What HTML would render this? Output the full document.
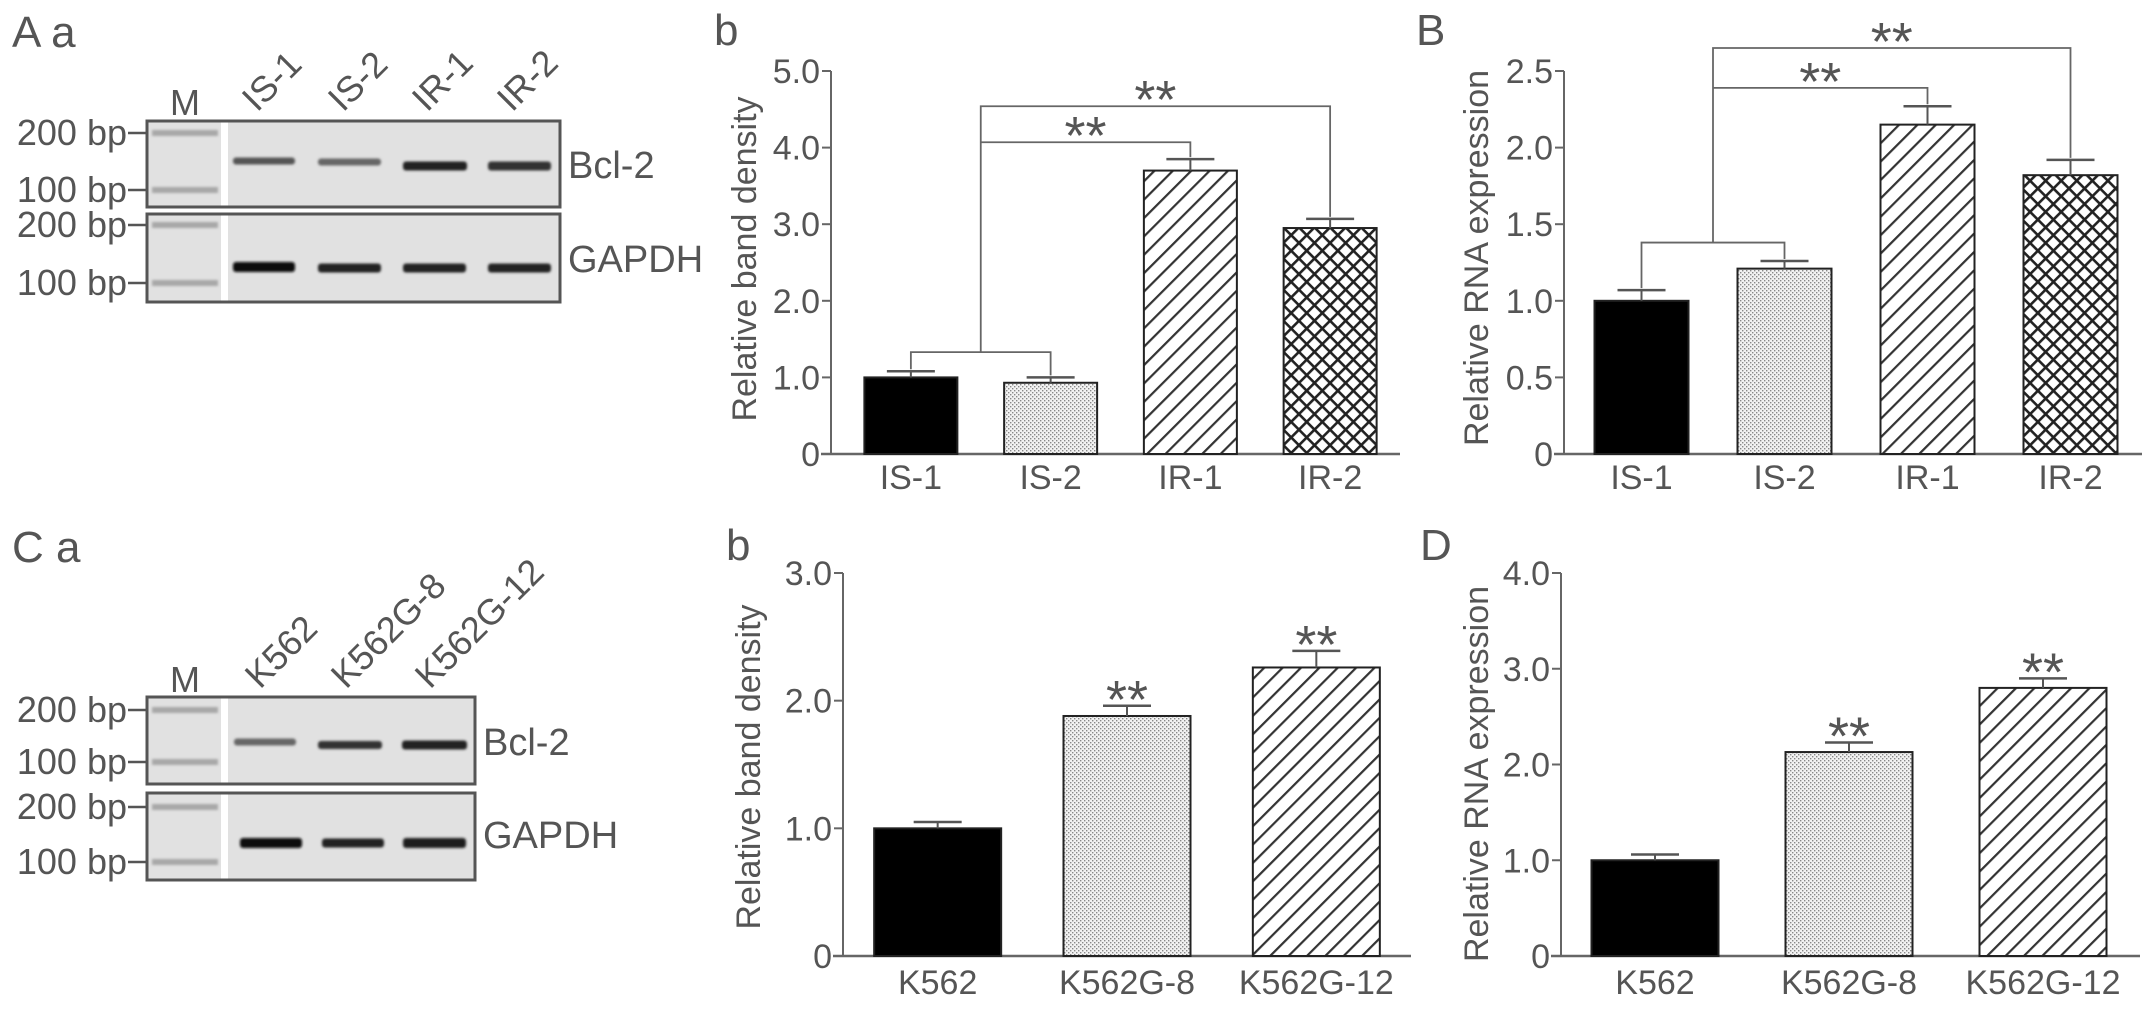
<!DOCTYPE html>
<html><head><meta charset="utf-8"><style>
html,body{margin:0;padding:0;background:#fff;}
svg{display:block;font-family:"Liberation Sans",Arial,sans-serif;}
text{fill:#555;}
</style></head><body>
<svg id="fig" width="2150" height="1009" viewBox="0 0 2150 1009" xmlns="http://www.w3.org/2000/svg">
<defs>
<pattern id="dots" width="4" height="4" patternUnits="userSpaceOnUse"><rect width="4" height="4" fill="#f2f2f2"/><rect x="0" y="0" width="1.4" height="1.4" fill="#888"/><rect x="2" y="2" width="1.4" height="1.4" fill="#888"/></pattern>
<pattern id="diag" width="13" height="13" patternUnits="userSpaceOnUse" patternTransform="rotate(45)"><rect width="13" height="13" fill="#fff"/><rect x="0" y="0" width="2.2" height="13" fill="#333"/></pattern>
<pattern id="cross" width="11" height="11" patternUnits="userSpaceOnUse" patternTransform="rotate(45)"><rect width="11" height="11" fill="#fff"/><rect x="0" y="0" width="2.6" height="11" fill="#222"/><rect x="0" y="0" width="11" height="2.6" fill="#222"/></pattern>
<filter id="blur" x="-10%" y="-100%" width="120%" height="300%"><feGaussianBlur stdDeviation="1.3"/></filter>
</defs>
<g id="root"></g>
</svg>
<script>
// ---------- Chart A-b data ----------
const abCategories = ["IS-1","IS-2","IR-1","IR-2"];
const abValues = [1.0, 0.93, 3.7, 2.95];
const abErrors = [0.08, 0.07, 0.15, 0.12];
const abTicks = [0,1,2,3,4,5];
const abTickLabels = ["0","1.0","2.0","3.0","4.0","5.0"];
// ---------- Chart B data ----------
const bCategories = ["IS-1","IS-2","IR-1","IR-2"];
const bValues = [1.0, 1.21, 2.15, 1.82];
const bErrors = [0.07, 0.05, 0.12, 0.1];
const bTicks = [0,0.5,1,1.5,2,2.5];
const bTickLabels = ["0","0.5","1.0","1.5","2.0","2.5"];
// ---------- Chart C-b data ----------
const cbCategories = ["K562","K562G-8","K562G-12"];
const cbValues = [1.0, 1.88, 2.26];
const cbErrors = [0.05, 0.08, 0.13];
const cbTicks = [0,1,2,3];
const cbTickLabels = ["0","1.0","2.0","3.0"];
// ---------- Chart D data ----------
const dCategories = ["K562","K562G-8","K562G-12"];
const dValues = [1.0, 2.13, 2.8];
const dErrors = [0.06, 0.1, 0.1];
const dTicks = [0,1,2,3,4];
const dTickLabels = ["0","1.0","2.0","3.0","4.0"];

const NS="http://www.w3.org/2000/svg";
const root=document.getElementById('root');
function mk(tag,attrs,parent){const e=document.createElementNS(NS,tag);for(const k in attrs)e.setAttribute(k,attrs[k]);(parent||root).appendChild(e);return e;}
function txt(s,x,y,size,anchor,parent,extra){const e=mk('text',Object.assign({x:x,y:y,'font-size':size,'text-anchor':anchor||'start'},extra||{}),parent);e.textContent=s;return e;}

function chart(cfg){
  const g=mk('g',{});
  
  
  const ymax=cfg.ticks[cfg.ticks.length-1];
  const Y=v=>cfg.y0-(cfg.y0-cfg.yTop)*v/ymax;
  const step=(cfg.xEnd-cfg.ax-cfg.pad)/cfg.cats.length;
  const X=i=>cfg.ax+cfg.pad+step*i+(step-cfg.bw)/2;
  const CX=i=>X(i)+cfg.bw/2;
  const ya=mk('line',{x1:cfg.ax,y1:cfg.yTop,x2:cfg.ax,y2:cfg.y0,stroke:'#666','stroke-width':2},g);
  
  
  const xa=mk('line',{x1:cfg.ax-10,y1:cfg.y0,x2:cfg.xEnd,y2:cfg.y0,stroke:'#666','stroke-width':2.5},g);
  
  
  cfg.ticks.forEach((t,i)=>{
    mk('line',{x1:cfg.ax-9,y1:Y(t),x2:cfg.ax,y2:Y(t),stroke:'#666','stroke-width':2},g);
    const tl=txt(cfg.tickLabels[i],cfg.ax-11,Y(t)+12,34,'end',g);
    
    
  });
  const yt=txt(cfg.ylabel,0,0,34,'middle',g,{transform:`translate(${cfg.ylx},${cfg.lyc}) rotate(-90)`});
  
  
  cfg.cats.forEach((c,i)=>{
    const b=mk('rect',{x:X(i),y:Y(cfg.vals[i]),width:cfg.bw,height:cfg.y0-Y(cfg.vals[i]),fill:cfg.fills[i],stroke:'#222','stroke-width':2},g);
    
    
    const top=Y(cfg.vals[i]+cfg.errs[i]);
    mk('line',{x1:CX(i),y1:Y(cfg.vals[i]),x2:CX(i),y2:top,stroke:'#555','stroke-width':2},g);
    const cap=mk('line',{x1:CX(i)-24,y1:top,x2:CX(i)+24,y2:top,stroke:'#555','stroke-width':2.5},g);
    
    
    const cl=txt(c,CX(i),cfg.labY,34,'middle',g);
    
    
    if(cfg.stars&&cfg.stars[i]){
      const s=txt('**',CX(i),top+12,54,'middle',g);
      
      
    }
  });
  if(cfg.brackets){
    const br=cfg.brackets;
    const st={stroke:'#666','stroke-width':1.8,fill:'none'};
    const c0=CX(0),c1=CX(1),c2=CX(2),c3=CX(3);
    const lo=Y(br.low);
    mk('polyline',Object.assign({points:`${c0},${Y(cfg.vals[0]+cfg.errs[0])-2} ${c0},${lo} ${c1},${lo} ${c1},${Y(cfg.vals[1]+cfg.errs[1])-2}`},st),g);
    const mid=(c0+c1)/2;
    mk('polyline',Object.assign({points:`${mid},${lo} ${mid},${Y(br.top)} ${c3},${Y(br.top)} ${c3},${Y(cfg.vals[3]+cfg.errs[3])-2}`},st),g);
    mk('polyline',Object.assign({points:`${mid},${Y(br.upper)} ${c2},${Y(br.upper)} ${c2},${Y(cfg.vals[2]+cfg.errs[2])-2}`},st),g);
    const s1=txt('**',(mid+c2)/2,Y(br.upper)+12,54,'middle',g);
    
    
    const s2=txt('**',(mid+c3)/2,Y(br.top)+12,54,'middle',g);
    
    
  }
}
const f4=['#000','url(#dots)','url(#diag)','url(#cross)'];
const f3=['#000','url(#dots)','url(#diag)'];
chart({name:'chart-a-b',cats:abCategories,vals:abValues,errs:abErrors,ticks:abTicks,tickLabels:abTickLabels,ax:831,y0:454,yTop:71,xEnd:1400,pad:10,bw:93,fills:f4,ylabel:'Relative band density',ylx:756,lyc:259,labY:489,brackets:{low:1.33,upper:4.07,top:4.54}});
chart({name:'chart-b',cats:bCategories,vals:bValues,errs:bErrors,ticks:bTicks,tickLabels:bTickLabels,ax:1564,y0:454,yTop:71,xEnd:2142,pad:6,bw:94,fills:f4,ylabel:'Relative RNA expression',ylx:1488,lyc:258,labY:489,brackets:{low:1.38,upper:2.39,top:2.65}});
chart({name:'chart-c-b',cats:cbCategories,vals:cbValues,errs:cbErrors,ticks:cbTicks,tickLabels:cbTickLabels,ax:843,y0:956,yTop:573,xEnd:1411,pad:0,bw:127,fills:f3,ylabel:'Relative band density',ylx:760,lyc:767,labY:994,stars:[0,1,1]});
chart({name:'chart-d',cats:dCategories,vals:dValues,errs:dErrors,ticks:dTicks,tickLabels:dTickLabels,ax:1561,y0:956,yTop:573,xEnd:2140,pad:-3,bw:127,fills:f3,ylabel:'Relative RNA expression',ylx:1488,lyc:774,labY:994,stars:[0,1,1]});

[['A a',12,47],['b',714,45],['B',1416,45],['C a',12,562],['b',726,560],['D',1420,560]].forEach(p=>{
  const t=txt(p[0],p[1],p[2],44,'start');
  
  
});

function gel(cfg){
  const g=mk('g',{});
  
  
  const m=txt('M',185,cfg.mY,36,'middle',g);
  
  
  cfg.lanes.forEach((l,i)=>{
    const t=txt(l,0,0,36,'start',g,{transform:`translate(${cfg.lx[i]},${cfg.mY-2}) rotate(-45)`});
    
    
  });
  cfg.boxes.forEach((bx,k)=>{
    const [y1,y2]=bx;
    mk('rect',{x:147,y:y1,width:cfg.x2-147,height:y2-y1,fill:'#e1e1e1',stroke:'#555','stroke-width':3},g);
    mk('rect',{x:221,y:y1+1.5,width:7,height:y2-y1-3,fill:'#fff'},g);
    cfg.markers[k].forEach((my,j)=>{
      mk('rect',{x:152,y:my-3,width:66,height:6,fill:'#a8a8a8',filter:'url(#blur)'},g);
      const lbl=txt(j==0?'200 bp':'100 bp',127,my+12,36,'end',g);
      
      
      mk('line',{x1:128,y1:my,x2:147,y2:my,stroke:'#555','stroke-width':2.5},g);
    });
    cfg.bands[k].forEach((bd,j)=>{
      const b=mk('rect',{x:bd[0],y:bd[1]-bd[2]/2,width:bd[3],height:bd[2],rx:3,fill:bd[4],filter:'url(#blur)'},g);
      
      
    });
    const gl=txt(cfg.genes[k],cfg.x2+8,cfg.geneY[k],38,'start',g);
    
    
  });
}
gel({name:'gel-a',x2:560,mY:115,lanes:['IS-1','IS-2','IR-1','IR-2'],lx:[257,343,427,512],
 boxes:[[121,207],[214,302]],markers:[[133,190],[225,283]],
 bands:[[[233,161,7,62,'#555'],[318,162,7,63,'#666'],[403,166,9,64,'#222'],[488,166,9,63,'#333']],
        [[233,267,10,62,'#111'],[318,268,9,63,'#222'],[403,268,9,63,'#222'],[488,268,9,63,'#222']]],
 genes:['Bcl-2','GAPDH'],geneY:[178,272]});
gel({name:'gel-c',x2:475,mY:692,lanes:['K562','K562G-8','K562G-12'],lx:[260,346,430],
 boxes:[[697,784],[793,880]],markers:[[710,762],[807,862]],
 bands:[[[234,742,7,62,'#666'],[318,745,8,64,'#333'],[402,745,9,65,'#222']],
        [[240,843,10,62,'#111'],[322,843,9,62,'#222'],[403,843,10,63,'#1a1a1a']]],
 genes:['Bcl-2','GAPDH'],geneY:[755,848]});
</script>
</body></html>
